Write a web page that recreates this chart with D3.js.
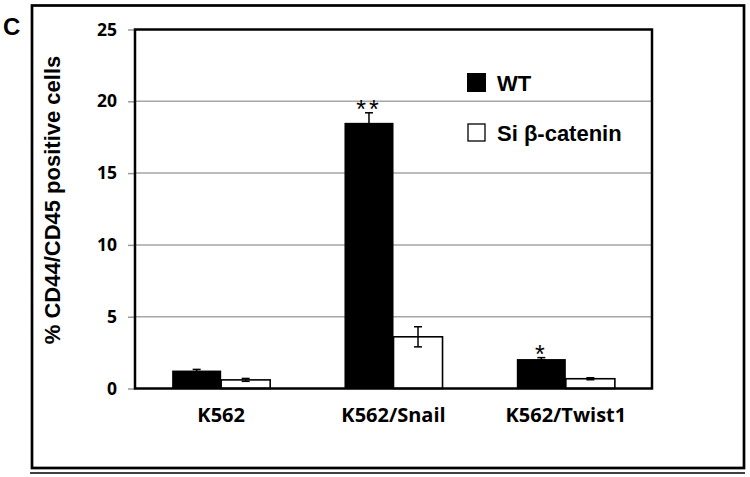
<!DOCTYPE html>
<html>
<head>
<meta charset="utf-8">
<script src="https://cdn.jsdelivr.net/npm/d3@7"></script>
<style>
  body { margin: 0; background: #fff; }
  svg { display: block; }
</style>
</head>
<body>
<div id="chart"></div>
<script>
const categories = ['K562', 'K562/Snail', 'K562/Twist1'];
const seriesNames = ['WT', 'Si \u03b2-catenin'];
const wtValues = [1.25, 18.5, 2.05];
const wtErrors = [0.08, 0.7, 0.1];
const siValues = [0.6, 3.6, 0.68];
const siErrors = [0.1, 0.7, 0.07];
const significance = ['', '**', '*'];
const yTicks = [0, 5, 10, 15, 20, 25];

const W = 750;
const H = 477;
const m = { top: 29.5, right: 98, bottom: 88.5, left: 135 };
const plotW = W - m.left - m.right;
const plotH = H - m.top - m.bottom;

const tickFont = '"Open Sans", sans-serif';
const labelFont = '"Liberation Sans", Arial, sans-serif';

const svg = d3.select('#chart')
  .append('svg')
  .attr('width', W)
  .attr('height', H);

// outer frame and double rule at the bottom
svg.append('rect')
  .attr('x', 32).attr('y', 5.5)
  .attr('width', 712).attr('height', 462.5)
  .attr('fill', 'none')
  .attr('stroke', '#000')
  .attr('stroke-width', 2.7);

svg.append('line')
  .attr('x1', 30).attr('x2', 745)
  .attr('y1', 473).attr('y2', 473)
  .attr('stroke', '#000')
  .attr('stroke-width', 1.6);

svg.append('text')
  .attr('x', 3).attr('y', 35)
  .attr('font-family', labelFont)
  .attr('font-weight', 'bold')
  .attr('font-size', 24)
  .text('C');

const g = svg.append('g')
  .attr('transform', 'translate(' + m.left + ',' + m.top + ')');

const y = d3.scaleLinear().domain([0, 25]).range([plotH, 0]);

const x0 = d3.scaleBand()
  .domain(categories)
  .range([0, plotW])
  .paddingInner(0.431)
  .paddingOuter(0.2155);

const x1 = d3.scaleBand()
  .domain(seriesNames)
  .range([0, x0.bandwidth()]);

// gridlines
g.append('g')
  .selectAll('line')
  .data(yTicks.filter((t) => t > 0 && t < 25))
  .enter()
  .append('line')
  .attr('x1', 0).attr('x2', plotW)
  .attr('y1', (d) => y(d)).attr('y2', (d) => y(d))
  .attr('stroke', '#a6a6a6')
  .attr('stroke-width', 1.5);

// y axis
const yAxis = d3.axisLeft(y)
  .tickValues(yTicks)
  .tickSize(7)
  .tickPadding(11);

const yAxisG = g.append('g').call(yAxis);
yAxisG.select('.domain').remove();
yAxisG.selectAll('line').attr('stroke', '#999').attr('stroke-width', 1.5);
yAxisG.selectAll('text')
  .attr('font-family', tickFont)
  .attr('font-weight', 'bold')
  .attr('font-size', 17.5)
  .attr('fill', '#000');

// x axis labels
const xAxis = d3.axisBottom(x0).tickSize(0).tickPadding(19);
const xAxisG = g.append('g')
  .attr('transform', 'translate(0,' + plotH + ')')
  .call(xAxis);
xAxisG.select('.domain').remove();
xAxisG.selectAll('text')
  .attr('font-family', tickFont)
  .attr('font-weight', 'bold')
  .attr('font-size', 20)
  .attr('fill', '#000');

// bars
const rows = categories.map((c, i) => ({
  cat: c,
  bars: [
    { name: seriesNames[0], value: wtValues[i], err: wtErrors[i] },
    { name: seriesNames[1], value: siValues[i], err: siErrors[i] }
  ],
  sig: significance[i],
  top: wtValues[i] + wtErrors[i]
}));

const groups = g.selectAll('.grp')
  .data(rows)
  .enter()
  .append('g')
  .attr('class', 'grp')
  .attr('transform', (d) => 'translate(' + x0(d.cat) + ',0)');

groups.selectAll('rect')
  .data((d) => d.bars)
  .enter()
  .append('rect')
  .attr('x', (d) => x1(d.name))
  .attr('y', (d) => y(d.value))
  .attr('width', x1.bandwidth())
  .attr('height', (d) => plotH - y(d.value))
  .attr('fill', (d, i) => (i === 0 ? '#000' : '#fff'))
  .attr('stroke', '#000')
  .attr('stroke-width', (d, i) => (i === 0 ? 0 : 1.6));

// error bars
const capW = 8;
const errG = groups.selectAll('.err')
  .data((d) => d.bars)
  .enter()
  .append('g')
  .attr('class', 'err')
  .attr('stroke', '#000')
  .attr('stroke-width', 1.5);

errG.append('line')
  .attr('x1', (d) => x1(d.name) + x1.bandwidth() / 2)
  .attr('x2', (d) => x1(d.name) + x1.bandwidth() / 2)
  .attr('y1', (d) => y(d.value + d.err))
  .attr('y2', (d) => y(d.value - d.err));

errG.selectAll('.cap')
  .data((d) => [d.value + d.err, d.value - d.err].map((v) => ({ v: v, name: d.name })))
  .enter()
  .append('line')
  .attr('class', 'cap')
  .attr('x1', (d) => x1(d.name) + x1.bandwidth() / 2 - capW / 2)
  .attr('x2', (d) => x1(d.name) + x1.bandwidth() / 2 + capW / 2)
  .attr('y1', (d) => y(d.v))
  .attr('y2', (d) => y(d.v));

// significance stars
groups.append('text')
  .attr('x', x1(seriesNames[0]) + x1.bandwidth() / 2)
  .attr('y', (d) => y(d.top) + 5)
  .attr('text-anchor', 'middle')
  .attr('font-family', labelFont)
  .attr('font-size', 25)
  .attr('letter-spacing', 3)
  .text((d) => d.sig);

// plot frame
g.append('rect')
  .attr('x', 0).attr('y', 0)
  .attr('width', plotW).attr('height', plotH)
  .attr('fill', 'none')
  .attr('stroke', '#000')
  .attr('stroke-width', 2.5);

// y label
svg.append('text')
  .attr('transform', 'translate(60,' + (m.top + plotH / 2 - 9) + ') rotate(-90)')
  .attr('text-anchor', 'middle')
  .attr('font-family', labelFont)
  .attr('font-weight', 'bold')
  .attr('font-size', 22)
  .text('% CD44/CD45 positive cells');

// legend
const legend = svg.append('g');
const legendRows = [
  { name: seriesNames[0], fill: '#000', y: 73 },
  { name: seriesNames[1], fill: '#fff', y: 123 }
];
legend.selectAll('rect')
  .data(legendRows)
  .enter()
  .append('rect')
  .attr('x', (d, i) => (i === 0 ? 467 : 468))
  .attr('y', (d, i) => (i === 0 ? d.y : d.y + 1))
  .attr('width', (d, i) => (i === 0 ? 19 : 17))
  .attr('height', (d, i) => (i === 0 ? 19 : 17))
  .attr('fill', (d) => d.fill)
  .attr('stroke', '#000')
  .attr('stroke-width', (d, i) => (i === 0 ? 0 : 1.3));

legend.selectAll('text')
  .data(legendRows)
  .enter()
  .append('text')
  .attr('x', 497)
  .attr('y', (d) => d.y + 18)
  .attr('font-family', labelFont)
  .attr('font-weight', 'bold')
  .attr('font-size', 22)
  .text((d) => d.name);
</script>
</body>
</html>
